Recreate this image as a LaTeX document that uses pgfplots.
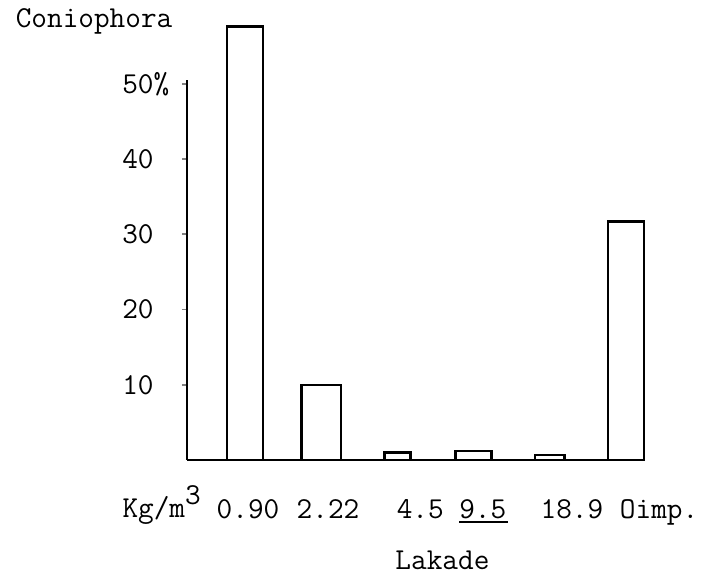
\documentclass[border=0pt]{standalone}
\usepackage{pgfplots}
\pgfplotsset{compat=1.18}
% typewriter look: Latin Modern Mono at about 8bp per character
\newcommand\tw{\ttfamily\fontsize{15.2bp}{18bp}\selectfont}

\begin{document}
\begin{tikzpicture}
\useasboundingbox (0,0) rectangle (354bp,288bp);
\begin{axis}[
  at={(93.5bp,58bp)}, anchor=south west,
  scale only axis,
  width=228.5bp, height=190bp,
  xmin=0.239, xmax=6.236,
  ymin=0, ymax=50.5,
  clip=false,
  axis lines=left,
  axis line style={-, line width=1bp},
  /pgf/number format/assume math mode=true,
  xtick={1.04,2.09,3.30,4.12,5.29,6.236},
  xticklabels={0.90,2.22,4.5,{\rlap{\rule[-2.6bp]{24.5bp}{1bp}}9.5},18.9,{\makebox[0pt][l]{\hspace{-12bp}Oimp.}}},
  x tick style={draw=none},
  xtick align=inside,
  xticklabel style={anchor=base, inner sep=0pt, yshift=-29bp},
  ytick={10,20,30,40,50},
  yticklabels={10,20,30,40,{50\rlap{\%}}},
  ytick align=outside,
  major tick length=2.5bp,
  y tick style={line width=0.8bp},
  yticklabel style={anchor=east, inner sep=0pt, xshift=-14bp},
  tick label style={font=\tw},
  xlabel={Lakade},
  ylabel={Coniophora},
  every axis x label/.style={at={(axis description cs:0.559,-0.289)}, anchor=base, font=\tw},
  every axis y label/.style={at={(axis description cs:-0.39,1.137)}, anchor=base west, font=\tw},
  bar/.style={ybar, bar shift=0pt, draw=black, fill=white, line width=1.2bp},
]
\addplot[bar, bar width=0.472] coordinates {(1,57.6)};
\addplot[bar, bar width=0.512] coordinates {(2,10.0)};
\addplot[bar, bar width=0.341] coordinates {(3,1.0)};
\addplot[bar, bar width=0.472] coordinates {(4,1.2)};
\addplot[bar, bar width=0.381] coordinates {(5,0.7)};
\addplot[bar, bar width=0.472] coordinates {(6,31.7)};
\node[anchor=base west, inner sep=0pt, font=\tw] at (rel axis cs:-0.142,-0.1526) {Kg/m\raisebox{0.45em}{3}};
\end{axis}
\end{tikzpicture}
\end{document}
